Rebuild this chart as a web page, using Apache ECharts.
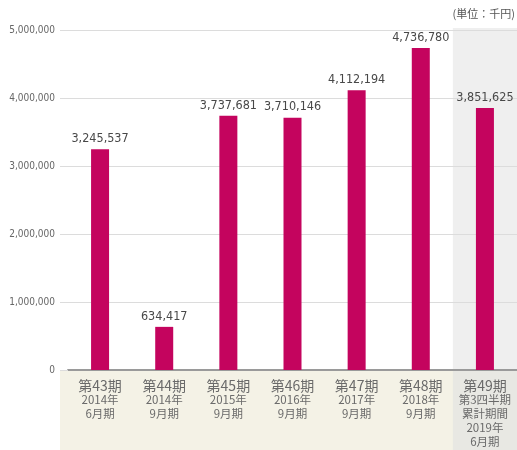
<!DOCTYPE html>
<html><head><meta charset="utf-8">
<script src="https://cdn.jsdelivr.net/npm/echarts@6/dist/echarts.min.js"></script>
<style>html,body{margin:0;padding:0;background:#fff}#c{width:517px;height:450px}</style>
</head><body><div id="c"></div>
<script>
const periods = ['第43期','第44期','第45期','第46期','第47期','第48期','第49期'];
const subLabels = ['2014年\n6月期','2014年\n9月期','2015年\n9月期','2016年\n9月期','2017年\n9月期','2018年\n9月期','第3四半期\n累計期間\n2019年\n6月期'];
const sales = [3245537, 634417, 3737681, 3710146, 4112194, 4736780, 3851625];
const unitLabel = '(単位：千円)';

const categories = periods.map((p,i)=>p+'\n'+subLabels[i]);
const chart = echarts.init(document.getElementById('c'), null, {renderer:'canvas'});
const narrow = '"DejaVu Sans Condensed", "Liberation Sans Narrow", sans-serif';
chart.setOption({
  animation:false,
  grid:{left:68,right:0,top:30,bottom:80},
  xAxis:{
    type:'category', data:categories,
    axisLine:{lineStyle:{color:'#9a9a9a',width:2}},
    axisTick:{show:false},
    axisLabel:{
      interval:0, margin:8,
      formatter:function(v){const s=v.split('\n');return '{a|'+s[0]+'}\n'+s.slice(1).map(t=>'{b|'+t+'}').join('\n');},
      rich:{
        a:{fontSize:14,color:'#6a6a6a',fontFamily:'"Noto Sans CJK JP", sans-serif',lineHeight:15},
        b:{fontSize:11.5,color:'#6a6a6a',fontFamily:'"Noto Sans CJK JP", sans-serif',lineHeight:14}
      }
    }
  },
  yAxis:{
    type:'value', min:0, max:5000000, interval:1000000,
    axisLine:{show:false},
    axisTick:{show:true,length:8,lineStyle:{color:'#dcdcdc'}},
    splitLine:{lineStyle:{color:'#dcdcdc'}},
    axisLabel:{margin:13,color:'#666',fontSize:10,fontFamily:narrow,
      formatter:v=>v.toLocaleString('en-US')}
  },
  series:[{
    type:'bar', data:sales, barWidth:18,
    itemStyle:{color:'#c4045e'},
    label:{show:true,position:'top',distance:4,color:'#484848',fontSize:12.5,fontFamily:narrow,
      formatter:p=>p.value.toLocaleString('en-US')}
  }]
});
function decorate(){
  const x0 = chart.convertToPixel({xAxisIndex:0}, categories[0]);
  const x1 = chart.convertToPixel({xAxisIndex:0}, categories[1]);
  const band = x1 - x0;
  const xl = chart.convertToPixel({xAxisIndex:0}, categories[categories.length-1]);
  const yTop = chart.convertToPixel({yAxisIndex:0}, 5000000);
  const yBase = chart.convertToPixel({yAxisIndex:0}, 0);
  chart.setOption({graphic:[
    {type:'rect',z:-10,silent:true,shape:{x:60,y:yBase,width:517-60,height:450-yBase},style:{fill:'#f4f2e6'}},
    {type:'rect',z:-9,silent:true,shape:{x:xl-band/2,y:yTop-2,width:band,height:yBase-yTop+2},style:{fill:'#efefef'}},
    {type:'rect',z:-9,silent:true,shape:{x:xl-band/2,y:yBase,width:band,height:450-yBase},style:{fill:'#e8e8e3'}},
    {type:'text',z:5,right:2,top:8,style:{text:unitLabel,fill:'#555',fontSize:11,fontFamily:'"Noto Sans CJK JP", sans-serif'}}
  ]});
}
decorate();
</script></body></html>
